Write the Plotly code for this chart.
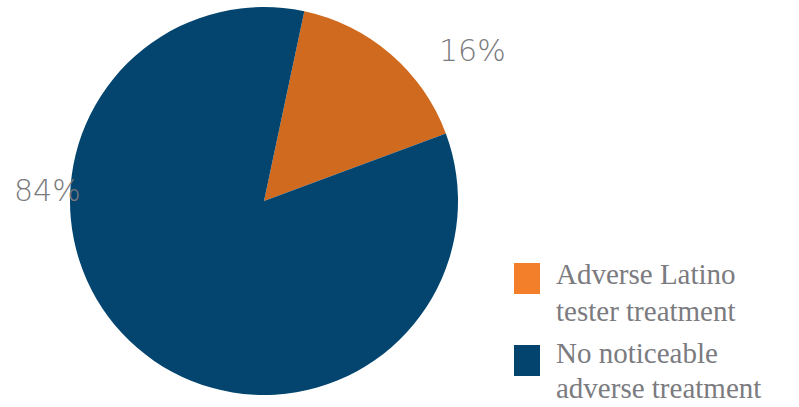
import plotly.graph_objects as go

labels = ["Adverse Latino tester treatment", "No noticeable adverse treatment"]
legend_lines = [["Adverse Latino", "tester treatment"], ["No noticeable", "adverse treatment"]]
values = [16, 84]
slice_colors = ["#CF6A1E", "#03456F"]
legend_colors = ["#F37F2B", "#03446E"]

W, H = 799, 407
def px(x): return x / W
def py(y): return 1 - y / H

fig = go.Figure()
fig.add_trace(go.Pie(
    labels=labels, values=values, sort=False, direction="clockwise", rotation=12,
    marker=dict(colors=slice_colors, line=dict(width=0)),
    textinfo="none", hoverinfo="label+percent", showlegend=False,
    domain=dict(x=[px(66), px(462)], y=[py(395), py(7)]),
))

# percentage labels
pct_pos = [(472, 50), (47, 190)]
for v, (x, y) in zip(values, pct_pos):
    fig.add_annotation(x=px(x), y=py(y), xref="paper", yref="paper", text=f"{v}%",
                       showarrow=False, xanchor="center", yanchor="middle",
                       font=dict(family="DejaVu Sans", size=30, color="#7A7A7D", weight=200))

# legend
leg_top = [263, 345]
baselines = [[283, 320], [362, 397]]
fs = 29
for i, (lines, col) in enumerate(zip(legend_lines, legend_colors)):
    t = leg_top[i]
    fig.add_shape(type="rect", xref="paper", yref="paper", x0=px(514), x1=px(540),
                  y0=py(t + 31), y1=py(t), fillcolor=col, line=dict(width=0))
    for j, line in enumerate(lines):
        fig.add_annotation(x=px(555), y=py(baselines[i][j] - 0.3 * fs), xref="paper", yref="paper",
                           text=line, showarrow=False, xanchor="left", yanchor="middle",
                           borderpad=0,
                           font=dict(family="Liberation Serif", size=fs, color="#7B7B80"))

fig.update_layout(width=W, height=H, margin=dict(l=0, r=0, t=0, b=0),
                  paper_bgcolor="white", plot_bgcolor="white")
fig.write_html("out.html")
